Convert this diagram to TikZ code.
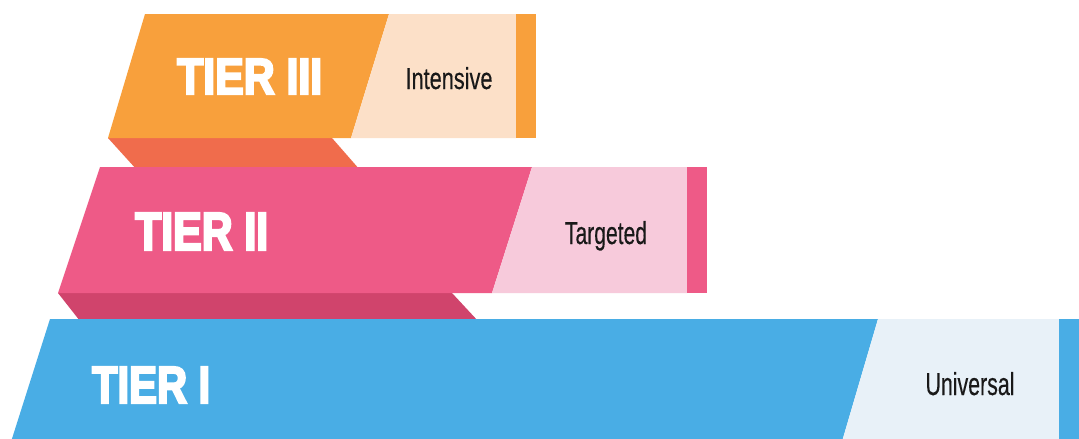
\documentclass[tikz,border=0pt]{standalone}
\usepackage{fontspec}
\usepackage{graphicx}
\setmainfont{Liberation Sans}
\newfontfamily\tierfont[FakeBold=4,FakeStretch=0.8]{Liberation Sans Bold}
\newfontfamily\labfont[FakeBold=0.4]{Liberation Sans}
\definecolor{orgMain}{HTML}{F8A03C}
\definecolor{orgLight}{HTML}{FCE0C8}
\definecolor{orgSide}{HTML}{F06C4C}
\definecolor{pnkMain}{HTML}{EE5A87}
\definecolor{pnkLight}{HTML}{F7CADB}
\definecolor{pnkSide}{HTML}{D0446C}
\definecolor{bluMain}{HTML}{49ADE5}
\definecolor{bluLight}{HTML}{E8F1F8}
\tikzset{
  tiertext/.style={anchor=base west, inner sep=0pt, text=white},
  labtext/.style={anchor=base, inner sep=0pt, text=black!90}
}
\newcommand{\tierlab}[3]{\resizebox{#1pt}{#2pt}{\tierfont #3}}
\newcommand{\sidelab}[3]{\resizebox{#1pt}{#2pt}{\labfont #3}}
\begin{document}
\begin{tikzpicture}[x=1pt,y=-1pt]
\useasboundingbox (0,0) rectangle (1079,439);
\fill[white] (0,0) rectangle (1079,439);
% Tier III
\fill[orgSide] (108,138) -- (332,138) -- (360,170) -- (137,170) -- cycle;
\fill[orgMain] (145,14) -- (389,14) -- (351,138) -- (108,138) -- cycle;
\fill[orgLight] (389,14) -- (516,14) -- (516,138) -- (351,138) -- cycle;
\fill[orgMain] (516,14) rectangle (536,138);
% Tier II
\fill[pnkSide] (58,293) -- (452,293) -- (478,321) -- (80,321) -- cycle;
\fill[pnkMain] (100,167) -- (532,167) -- (492,293) -- (58,293) -- cycle;
\fill[pnkLight] (532,167) -- (687,167) -- (687,293) -- (492,293) -- cycle;
\fill[pnkMain] (687,167) rectangle (707,293);
% Tier I
\fill[bluMain] (50,319) -- (878,319) -- (841,445) -- (10,445) -- cycle;
\fill[bluLight] (878,319) -- (1059,319) -- (1059,445) -- (841,445) -- cycle;
\fill[bluMain] (1059,319) rectangle (1085,445);
% texts
\node[tiertext] (t3) at (177,94) {\tierlab{145}{35}{TIER III}};
\node[tiertext] (t2) at (135,250) {\tierlab{133}{37}{TIER II}};
\node[tiertext] (t1) at (92,403) {\tierlab{118}{36}{TIER I}};
\node[labtext] (l3) at (449,89) {\sidelab{87}{22}{Intensive}};
\node[labtext] (l2) at (606,244) {\sidelab{82}{23}{Targeted}};
\node[labtext] (l1) at (970,395) {\sidelab{89}{23}{Universal}};
\end{tikzpicture}
\end{document}
